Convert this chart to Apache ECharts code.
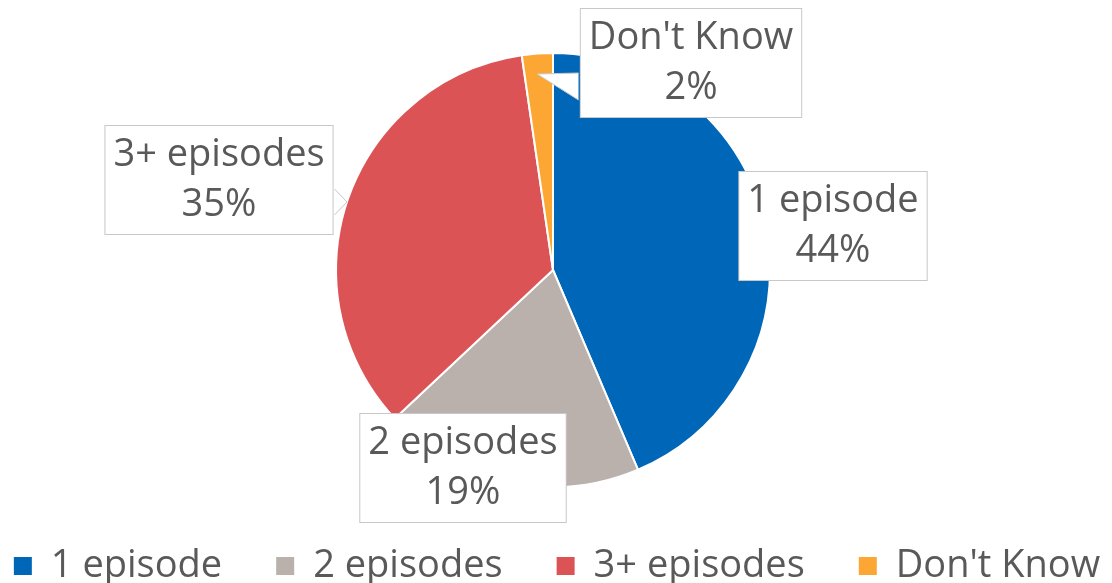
<!DOCTYPE html>
<html>
<head>
<meta charset="utf-8">
<script src="https://cdn.jsdelivr.net/npm/echarts@6/dist/echarts.min.js"></script>
<style>
  html, body { margin: 0; padding: 0; background: #fff; }
  #chart { width: 1112px; height: 583px; }
</style>
</head>
<body>
<div id="chart"></div>
<script>
  // data
  const categories = ['1 episode', '2 episodes', '3+ episodes', "Don't Know"]
  const shares = [43.6, 19.4, 34.7, 2.3]
  const colors = ['#0066b8', '#bab0ac', '#dc5356', '#fca733']

  // where each label box sits (centre of box)
  const labelPos = [[833, 226], [463, 468], [219, 180], [691, 63]]

  const chart = echarts.init(document.getElementById('chart'))
  const font = '"Open Sans", "Noto Sans", sans-serif'
  const boxLine = '#c8c8c8'

  // little callout tails on two of the boxes
  function tail (pts) {
    return [{
      type: 'polygon',
      z: 100,
      shape: { points: pts },
      style: { fill: '#fff', stroke: null }
    }, {
      type: 'polyline',
      z: 101,
      shape: { points: pts },
      style: { stroke: boxLine, lineWidth: 1, fill: null }
    }]
  }

  chart.setOption({
    backgroundColor: '#fff',
    animation: false,
    color: colors,
    legend: {
      top: 542,
      left: 'center',
      icon: 'rect',
      itemWidth: 20,
      itemHeight: 20,
      itemGap: 52,
      textStyle: {
        color: '#595959',
        fontSize: 38,
        fontFamily: font,
        padding: [0, 0, 0, 13]
      },
      data: categories
    },
    graphic: [].concat(
      tail([[334.5, 189], [347, 202], [334.5, 215]]),
      tail([[578.5, 73], [537, 74], [578.5, 100]])
    ),
    series: [{
      type: 'pie',
      center: [553, 270],
      radius: 217,
      startAngle: 90,
      clockwise: true,
      itemStyle: {
        borderColor: '#fff',
        borderWidth: 2
      },
      label: {
        show: true,
        position: 'outside',
        formatter (p) {
          return p.name + '\n' + Math.round(p.percent) + '%'
        },
        color: '#595959',
        fontSize: 38,
        fontFamily: font,
        lineHeight: 50,
        align: 'center',
        backgroundColor: '#fff',
        borderColor: boxLine,
        borderWidth: 1,
        padding: [4, 8, 4, 8]
      },
      labelLine: { show: false },
      labelLayout (params) {
        const pos = labelPos[params.dataIndex]
        return {
          x: pos[0],
          y: pos[1],
          align: 'center',
          verticalAlign: 'middle'
        }
      },
      data: categories.map((name, i) => ({ name: name, value: shares[i] }))
    }]
  })
</script>
</body>
</html>
